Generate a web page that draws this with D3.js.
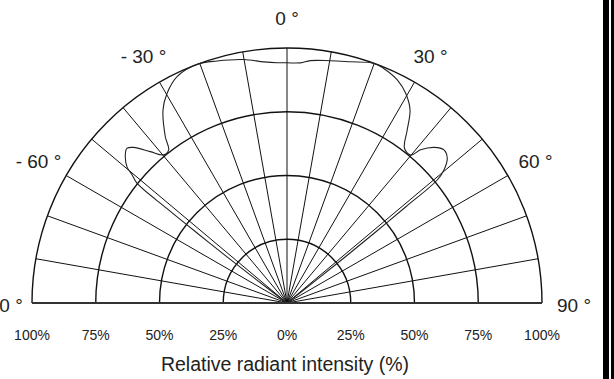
<!DOCTYPE html>
<html>
<head>
<meta charset="utf-8">
<script src="https://cdn.jsdelivr.net/npm/d3@7/dist/d3.min.js"></script>
<style>
  html, body { margin: 0; padding: 0; background: #fff; }
  svg { display: block; }
  text { font-family: "Liberation Sans", Arial, sans-serif; fill: #222; }
</style>
</head>
<body>
<svg id="chart" width="614" height="379"></svg>
<script>
// ---- data ----
const rings = [25, 50, 75, 100];                       // % circles
const rayAngles = d3.range(-80, 81, 10);               // degrees, 0 = up
const angleLabelAngles = [-90, -60, -30, 0, 30, 60, 90];
const angleLabels = ["- 90 °", "- 60 °", "- 30 °", "0 °", "30 °", "60 °", "90 °"];
const tickValues = [-100, -75, -50, -25, 0, 25, 50, 75, 100];
const tickLabels = ["100%", "75%", "50%", "25%", "0%", "25%", "50%", "75%", "100%"];
const axisTitle = "Relative radiant intensity (%)";

// radiation pattern: angle (deg) and relative intensity (%)
const patternAngle = [
  -53.0, -52.7, -52.4, -52.1, -51.8, -51.4, -50.4, -49.6, -47.5, -46.0, -44.6, -42.1,
  -39.8, -37.7, -36.2, -32.7, -29.8, -25.9, -20.6, -16.1, -10.1, -5.5, -2.4, 0,
  3.2, 5.5, 10.1, 14.7, 19.9, 22.4, 26.3, 29.5, 32.5, 34.8, 37.2, 39.9,
  41.1, 43.4, 45.7, 47.9, 49.7, 50.7, 51.0, 51.3, 51.6, 51.9, 52.1
];
const patternValue = [
  0, 15, 30, 45, 60, 75.3, 78.8, 82.4, 86.0, 87.3, 85.7, 80.0,
  75.6, 75.9, 80.8, 90.0, 94.7, 98.7, 100, 98.8, 97.0, 95.0, 94.3, 94.2,
  94.3, 95.5, 96.5, 97.8, 100, 99.5, 97.6, 94.5, 89.8, 82.6, 76.2, 75.6,
  79.7, 84.0, 86.0, 84.7, 80.7, 76.0, 60, 45, 30, 15, 0
];

// ---- layout ----
const cx = 287, cy = 303, R = 255;
const svg = d3.select("#chart");

const rScale = d3.scaleLinear().domain([0, 100]).range([0, R]);
const aScale = d3.scaleLinear().domain([-180, 180]).range([-Math.PI, Math.PI]);
const xScale = d3.scaleLinear().domain([-100, 100]).range([cx - R, cx + R]);

const g = svg.append("g").attr("transform", `translate(${cx},${cy})`);

// rays
g.selectAll("line.ray").data(rayAngles).join("line")
  .attr("class", "ray")
  .attr("x1", 0).attr("y1", 0)
  .attr("x2", d => rScale(100) * Math.sin(aScale(d)))
  .attr("y2", d => -rScale(100) * Math.cos(aScale(d)))
  .attr("stroke", "#111").attr("stroke-width", 1);

// ring arcs
const arc = d3.arc();
g.selectAll("path.ring").data(rings).join("path")
  .attr("class", "ring")
  .attr("d", d => arc({innerRadius: rScale(d), outerRadius: rScale(d),
                       startAngle: aScale(-90), endAngle: aScale(90)}))
  .attr("fill", "none").attr("stroke", "#111").attr("stroke-width", 1.4);

// baseline
svg.append("line")
  .attr("x1", xScale(-100)).attr("x2", xScale(100))
  .attr("y1", cy).attr("y2", cy)
  .attr("stroke", "#333").attr("stroke-width", 1.8);

// pattern curve
const pts = patternAngle.map((a, i) => [aScale(a), rScale(patternValue[i])]);
const line = d3.lineRadial().curve(d3.curveCatmullRom.alpha(0.5));
g.append("path")
  .attr("d", line(pts))
  .attr("fill", "none").attr("stroke", "#222").attr("stroke-width", 1.1);

// angle labels
const labelR = 287;
g.selectAll("text.ang").data(angleLabelAngles).join("text")
  .attr("class", "ang")
  .attr("x", d => labelR * Math.sin(aScale(d)))
  .attr("y", d => -labelR * Math.cos(aScale(d)) + 2)
  .attr("text-anchor", "middle")
  .attr("dominant-baseline", "central")
  .attr("font-size", 19)
  .text((d, i) => angleLabels[i]);

// tick labels
svg.selectAll("text.tick").data(tickValues).join("text")
  .attr("class", "tick")
  .attr("x", d => xScale(d))
  .attr("y", 340)
  .attr("text-anchor", "middle")
  .attr("font-size", 14)
  .text((d, i) => tickLabels[i]);

// axis title
svg.append("text")
  .attr("x", xScale(0) - 2)
  .attr("y", 371)
  .attr("text-anchor", "middle")
  .attr("font-size", 19.5)
  .text(axisTitle);

// right border bars
svg.append("rect").attr("x", 603).attr("y", 0).attr("width", 6).attr("height", 379).attr("fill", "#000");
svg.append("rect").attr("x", 611).attr("y", 0).attr("width", 3).attr("height", 379).attr("fill", "#000");
</script>
</body>
</html>
